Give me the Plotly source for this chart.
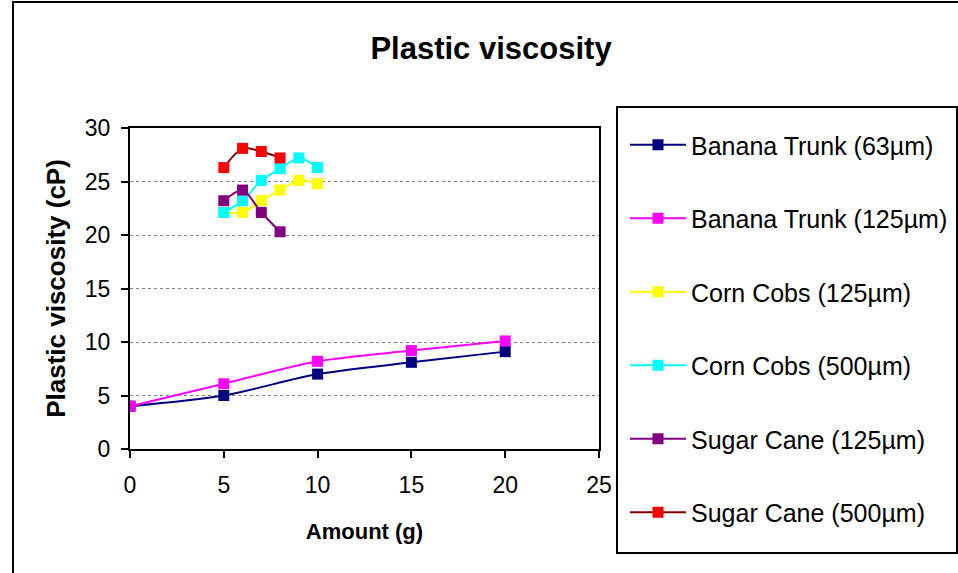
import plotly.graph_objects as go

# Data
banana_x = [0, 5, 10, 15, 20]
banana_63 = [4.0, 5.0, 7.0, 8.1, 9.1]
banana_125 = [4.0, 6.1, 8.2, 9.2, 10.1]

corn_x = [5, 6, 7, 8, 9, 10]
corn_125 = [22.1, 22.1, 23.2, 24.2, 25.1, 24.8]
corn_500 = [22.1, 23.2, 25.1, 26.2, 27.2, 26.3]

cane_x = [5, 6, 7, 8]
cane_125 = [23.2, 24.2, 22.1, 20.3]
cane_500 = [26.3, 28.1, 27.8, 27.2]

series = [
    ("Banana Trunk (63µm)", banana_x, banana_63, "#000080", "#000080"),
    ("Banana Trunk (125µm)", banana_x, banana_125, "#FF00FF", "#FF00FF"),
    ("Corn Cobs (125µm)", corn_x, corn_125, "#FFFF00", "#FFFF00"),
    ("Corn Cobs (500µm)", corn_x, corn_500, "#00FFFF", "#00FFFF"),
    ("Sugar Cane (125µm)", cane_x, cane_125, "#800080", "#800080"),
    ("Sugar Cane (500µm)", cane_x, cane_500, "#800000", "#FF0000"),
]

FONT = "Liberation Sans, Arial, sans-serif"
W, H = 958, 573
L, R, T, B = 130, 359, 128, 124
PW, PH = W - L - R, H - T - B


def px_x(px):
    # pixel -> paper x
    return (px - L) / PW


def px_y(py):
    # pixel -> paper y
    return (H - B - py) / PH


fig = go.Figure()
for i, (name, xs, ys, line_col, mark_col) in enumerate(series):
    fig.add_trace(go.Scatter(
        x=xs, y=ys, name=name, mode="lines+markers",
        line=dict(color=line_col, width=2, shape="spline", smoothing=0.8),
        marker=dict(symbol="square", size=11, color=mark_col),
        legendgroup=f"g{i}",
    ))

# outer chart frame (right and bottom edges fall outside the window)
fig.add_shape(type="rect", xref="paper", yref="paper",
              x0=px_x(13), x1=px_x(1100), y0=px_y(700), y1=px_y(2),
              line=dict(color="black", width=2), layer="below")
# legend box
fig.add_shape(type="rect", xref="paper", yref="paper",
              x0=px_x(617), x1=px_x(957), y0=px_y(553), y1=px_y(107),
              line=dict(color="black", width=2), fillcolor="white", layer="below")

fig.update_layout(
    width=W, height=H,
    margin=dict(l=L, r=R, t=T, b=B),
    paper_bgcolor="white", plot_bgcolor="rgba(0,0,0,0)",
    font=dict(family=FONT, size=23, color="black"),
    title=dict(text="<b>Plastic viscosity</b>", x=491 / W, xanchor="center",
               y=1 - 48 / H, yanchor="middle",
               font=dict(size=31, family=FONT)),
    xaxis=dict(
        range=[0, 25], tickvals=[0, 5, 10, 15, 20, 25], showgrid=False,
        showline=True, mirror=True, linecolor="black", linewidth=2,
        ticks="outside", ticklen=7, tickwidth=2, tickcolor="black",
        ticklabelstandoff=7,
        zeroline=False, automargin=False,
        title=dict(text="<b>Amount (g)</b>", font=dict(size=22), standoff=27),
    ),
    yaxis=dict(
        range=[0, 30], tickvals=[0, 5, 10, 15, 20, 25, 30],
        showgrid=True, gridcolor="#808080", griddash="dot", gridwidth=1,
        showline=True, mirror=True, linecolor="black", linewidth=2,
        ticks="outside", ticklen=7, tickwidth=2, tickcolor="black",
        ticklabelstandoff=6,
        zeroline=False, automargin=False,
        title=dict(text="<b>Plastic viscosity (cP)</b>", font=dict(size=26), standoff=12),
    ),
    legend=dict(
        xref="container", yref="container",
        x=625 / W, y=1 - 122 / H, xanchor="left", yanchor="top",
        bgcolor="rgba(0,0,0,0)", borderwidth=0,
        font=dict(size=25, family=FONT),
        tracegroupgap=38, itemwidth=56, maxheight=480,
    ),
)

fig.write_html("out.html", config={"displayModeBar": False},
               post_script="document.body.style.margin='0';")
